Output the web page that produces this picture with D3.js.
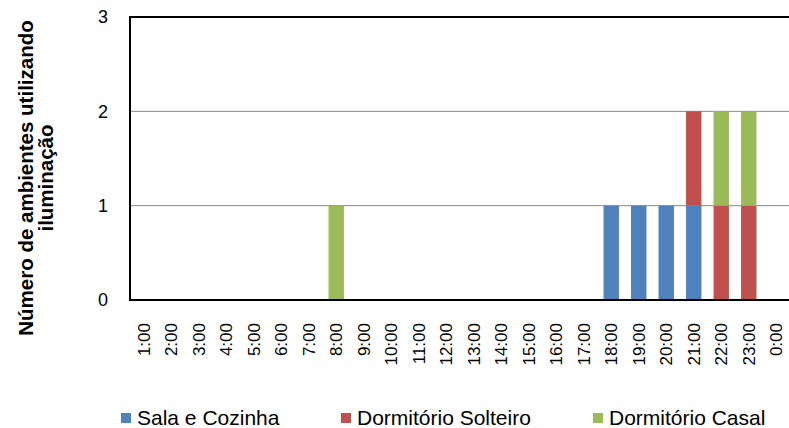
<!DOCTYPE html>
<html>
<head>
<meta charset="utf-8">
<script src="https://cdn.jsdelivr.net/npm/d3@7"></script>
<style>
  body { margin: 0; background: #fff; }
  svg { display: block; }
  svg text { font-family: "Liberation Sans", Arial, sans-serif; }
</style>
</head>
<body>
<svg width="789" height="428"></svg>
<script>
// **** data ****
var hours = ['1:00','2:00','3:00','4:00','5:00','6:00','7:00','8:00','9:00','10:00','11:00','12:00',
             '13:00','14:00','15:00','16:00','17:00','18:00','19:00','20:00','21:00','22:00','23:00','0:00'];
var seriesNames = ['Sala e Cozinha', 'Dormitório Solteiro', 'Dormitório Casal'];
var salaCozinha      = [0,0,0,0,0,0,0,0,0,0,0,0,0,0,0,0,0,1,1,1,1,0,0,0];
var dormSolteiro     = [0,0,0,0,0,0,0,0,0,0,0,0,0,0,0,0,0,0,0,0,1,1,1,0];
var dormCasal        = [0,0,0,0,0,0,0,1,0,0,0,0,0,0,0,0,0,0,0,0,0,1,1,0];
var yTicks = [0, 1, 2, 3];
var colors = ['#4F81BD', '#C0504D', '#9BBB59'];

var table = hours.map(function(h, i) {
    return { hour: h, 'Sala e Cozinha': salaCozinha[i],
             'Dormitório Solteiro': dormSolteiro[i], 'Dormitório Casal': dormCasal[i] };
});

// **** scales ****
var xScale = d3.scaleBand().domain(hours).range([130, 790])
    .paddingInner(0.44).paddingOuter(0.22);
var yScale = d3.scaleLinear().domain([0, 3]).range([300, 17]);

var svg = d3.select('svg');

// gridlines
svg.append('g').selectAll('line')
    .data([1, 2]).enter().append('line')
    .attr('x1', 130).attr('x2', 790)
    .attr('y1', function(d){ return yScale(d); })
    .attr('y2', function(d){ return yScale(d); })
    .attr('stroke', '#868686').attr('stroke-width', 1);

// bars
var stack = d3.stack().keys(seriesNames)(table);
svg.append('g').selectAll('g')
    .data(stack).enter().append('g')
    .attr('fill', function(d, i){ return colors[i]; })
    .selectAll('rect')
    .data(function(d){ return d; }).enter()
    .filter(function(d){ return d[1] - d[0] > 0; })
    .append('rect')
    .attr('x', function(d){ return xScale(d.data.hour); })
    .attr('width', xScale.bandwidth())
    .attr('y', function(d){ return yScale(d[1]); })
    .attr('height', function(d){ return yScale(d[0]) - yScale(d[1]); });

// frame (left, top, bottom)
svg.append('path')
    .attr('d', 'M790,' + yScale(3) + 'H130V' + yScale(0) + 'H790')
    .attr('fill', 'none').attr('stroke', '#000').attr('stroke-width', 2);

// y axis
var yAxis = svg.append('g').attr('transform', 'translate(130,0)')
    .call(d3.axisLeft(yScale).tickValues(yTicks).tickSize(0).tickPadding(22).tickFormat(d3.format('d')));
yAxis.select('.domain').remove();
yAxis.selectAll('text').style('font-size', '18px').attr('fill', '#000')
    .style('font-family', '"Liberation Sans", Arial, sans-serif');

// x axis labels
var xAxis = svg.append('g').attr('transform', 'translate(0,300)')
    .call(d3.axisBottom(xScale).tickSize(0));
xAxis.select('.domain').remove();
xAxis.selectAll('text')
    .style('font-size', '17px').attr('fill', '#000')
    .style('font-family', '"Liberation Sans", Arial, sans-serif')
    .attr('text-anchor', 'end')
    .attr('transform', 'rotate(-90)')
    .attr('x', -23).attr('y', 0).attr('dy', '0.35em');

// y title
var title = svg.append('text')
    .attr('transform', 'translate(0,178) rotate(-90)')
    .attr('text-anchor', 'middle')
    .style('font-size', '20.5px').style('font-weight', 'bold');
title.append('tspan').attr('x', 0).attr('y', 33).text('Número de ambientes utilizando');
title.append('tspan').attr('x', 0).attr('y', 53).text('iluminação');

// legend
var legendX = [121, 341, 593];
var legend = svg.append('g').selectAll('g')
    .data(seriesNames).enter().append('g')
    .attr('transform', function(d, i){ return 'translate(' + legendX[i] + ',0)'; });
legend.append('rect').attr('x', 0).attr('y', 413).attr('width', 10).attr('height', 10)
    .attr('fill', function(d, i){ return colors[i]; });
legend.append('text').attr('x', 16).attr('y', 425)
    .style('font-size', '21px').text(function(d){ return d; });
</script>
</body>
</html>
